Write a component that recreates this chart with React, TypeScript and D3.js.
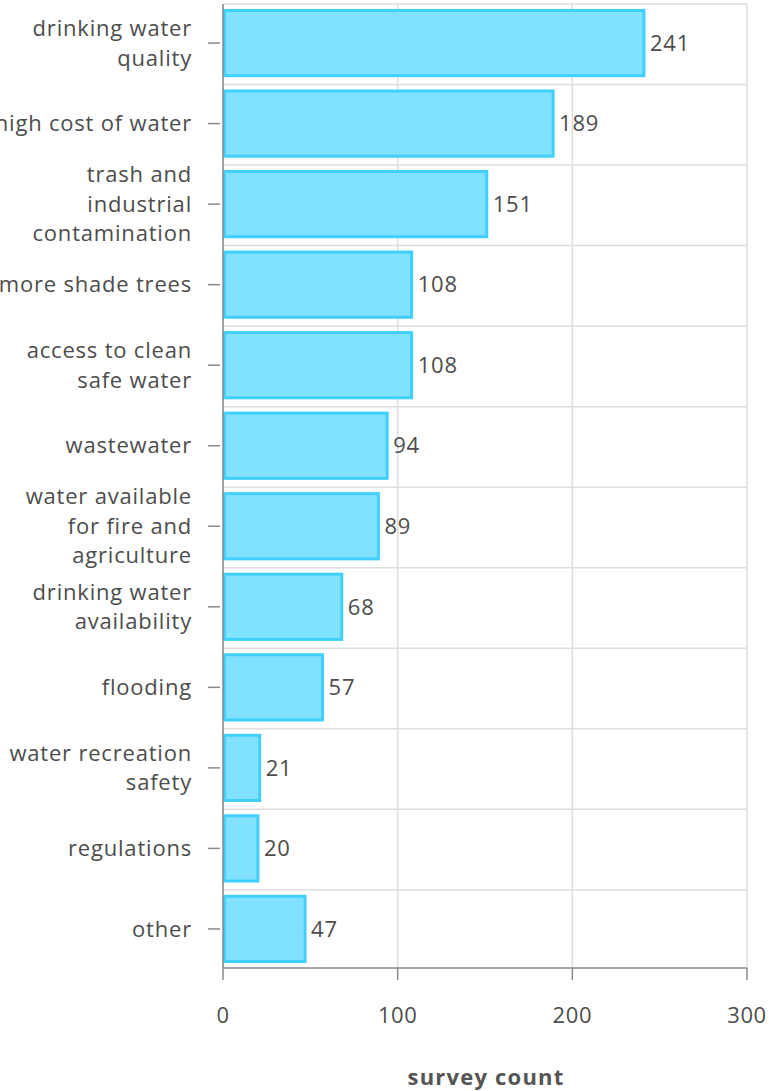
import React, { useEffect, useRef } from 'react';
import * as d3 from 'd3';

const categories: string[] = [
  'drinking water\nquality',
  'high cost of water',
  'trash and\nindustrial\ncontamination',
  'more shade trees',
  'access to clean\nsafe water',
  'wastewater',
  'water available\nfor fire and\nagriculture',
  'drinking water\navailability',
  'flooding',
  'water recreation\nsafety',
  'regulations',
  'other',
];
const counts: number[] = [241, 189, 151, 108, 108, 94, 89, 68, 57, 21, 20, 47];
const xTicks: number[] = [0, 100, 200, 300];
const xTitle = 'survey count';

const width = 769;
const height = 1091;
const margin = { top: 4, right: 22, bottom: 123, left: 223 };
const font = '"Open Sans", sans-serif';
const textColor = '#4d4d4d';

export default function App() {
  const ref = useRef<SVGSVGElement>(null);

  useEffect(() => {
    const svg = d3.select(ref.current);
    svg.selectAll('*').remove();

    const x = d3.scaleLinear().domain([0, 300]).range([margin.left, width - margin.right]);
    const y = d3.scaleBand<string>()
      .domain(categories)
      .range([margin.top, height - margin.bottom])
      .paddingInner(0.19)
      .paddingOuter(0.08);
    const step = y.step();
    const y0 = margin.top;
    const y1 = height - margin.bottom;

    // grid
    const grid = svg.append('g').attr('stroke', '#dedede').attr('stroke-width', 1.5);
    xTicks.forEach((t) => {
      grid.append('line').attr('x1', x(t)).attr('x2', x(t)).attr('y1', y0).attr('y2', y1);
    });
    d3.range(categories.length).forEach((i) => {
      const yy = y0 + i * step;
      grid.append('line').attr('x1', x(0)).attr('x2', x(300)).attr('y1', yy).attr('y2', yy);
    });

    // bars
    svg.append('g')
      .selectAll('rect')
      .data(counts)
      .enter()
      .append('rect')
      .attr('x', x(0) + 1.5)
      .attr('y', (d, i) => (y(categories[i]) as number))
      .attr('width', (d) => x(d) - x(0) - 1.5)
      .attr('height', y.bandwidth())
      .attr('fill', '#80e2ff')
      .attr('stroke', '#3fd0ff')
      .attr('stroke-width', 3);

    // value labels
    svg.append('g')
      .selectAll('text')
      .data(counts)
      .enter()
      .append('text')
      .attr('x', (d) => x(d) + 6)
      .attr('y', (d, i) => (y(categories[i]) as number) + y.bandwidth() / 2)
      .attr('dy', '0.35em')
      .attr('font-family', font)
      .attr('font-size', 22)
      .attr('letter-spacing', 0.8)
      .attr('fill', textColor)
      .text((d) => d);

    // y axis
    svg.append('line')
      .attr('x1', x(0)).attr('x2', x(0)).attr('y1', y0).attr('y2', y1)
      .attr('stroke', '#8a8a8a').attr('stroke-width', 1.5);
    const yAxis = svg.append('g');
    categories.forEach((c) => {
      const cy = (y(c) as number) + y.bandwidth() / 2;
      yAxis.append('line')
        .attr('x1', 208).attr('x2', 220).attr('y1', cy).attr('y2', cy)
        .attr('stroke', '#8a8a8a').attr('stroke-width', 1.5);
      const lines = c.split('\n');
      const lh = 29.5;
      const txt = yAxis.append('text')
        .attr('text-anchor', 'end')
        .attr('font-family', font)
        .attr('font-size', 22)
        .attr('letter-spacing', 0.8)
        .attr('fill', textColor);
      lines.forEach((l, j) => {
        txt.append('tspan')
          .attr('x', 192)
          .attr('y', cy + (j - (lines.length - 1) / 2) * lh)
          .attr('dy', '0.35em')
          .text(l);
      });
    });

    // x axis
    svg.append('line')
      .attr('x1', x(0)).attr('x2', x(300)).attr('y1', y1).attr('y2', y1)
      .attr('stroke', '#8a8a8a').attr('stroke-width', 1.5);
    const xAxis = svg.append('g');
    xTicks.forEach((t) => {
      xAxis.append('line')
        .attr('x1', x(t)).attr('x2', x(t)).attr('y1', y1).attr('y2', y1 + 12)
        .attr('stroke', '#8a8a8a').attr('stroke-width', 1.5);
      xAxis.append('text')
        .attr('x', x(t))
        .attr('y', 1015)
        .attr('dy', '0.35em')
        .attr('text-anchor', 'middle')
        .attr('font-family', font)
        .attr('font-size', 22)
        .attr('letter-spacing', 0.6)
        .attr('fill', textColor)
        .text(t);
    });
    svg.append('text')
      .attr('x', 486)
      .attr('y', 1077)
      .attr('dy', '0.35em')
      .attr('text-anchor', 'middle')
      .attr('font-family', font)
      .attr('font-size', 22)
      .attr('letter-spacing', 1.2)
      .attr('font-weight', 'bold')
      .attr('fill', '#555')
      .text(xTitle);
  }, []);

  return (
    <svg
      ref={ref}
      width={width}
      height={height}
      style={{ position: 'absolute', left: 0, top: 0, background: '#fff' }}
    />
  );
}
